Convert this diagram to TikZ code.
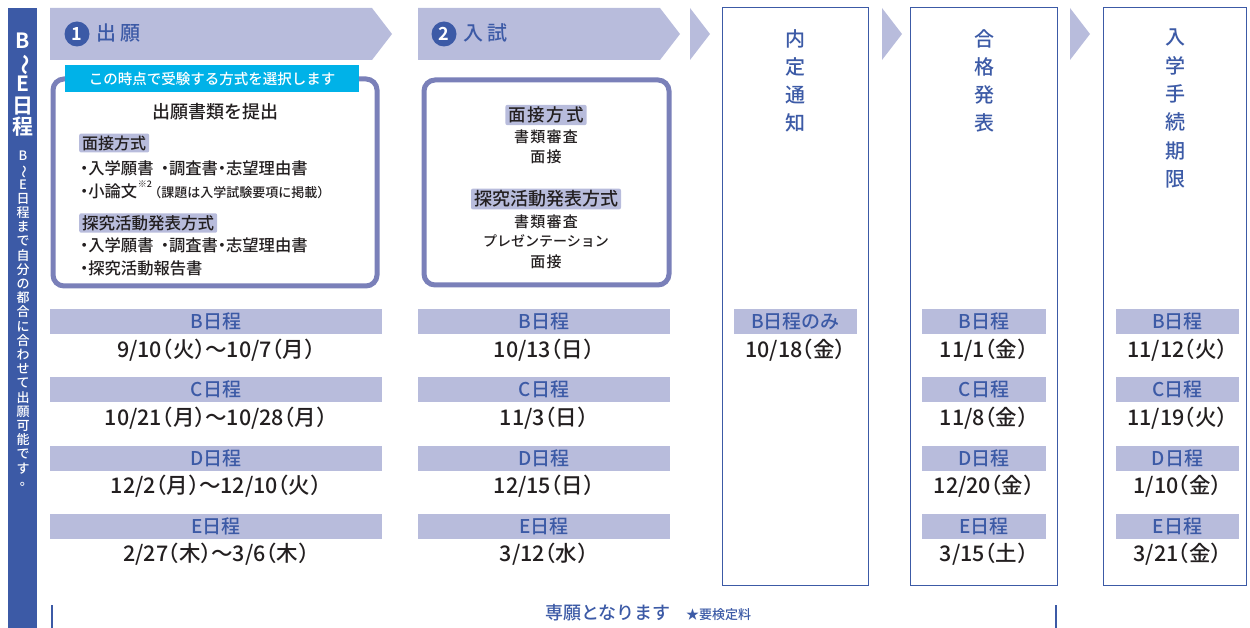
\documentclass[tikz,border=0pt]{standalone}
\usepackage{fontspec}
\usepackage{graphicx}
\setmainfont{Noto Sans CJK JP}[UprightFont=* Medium,BoldFont=* Bold]
\newfontfamily\jph{Noto Sans CJK JP}[UprightFont=* Medium,RawFeature=+halt]
\newcommand\myfs[1]{\fontsize{#1pt}{#1pt}\selectfont}
\newcommand\vfs[2]{\fontsize{#1pt}{#2pt}\selectfont}
\newcommand\vtilde{\smash{\rotatebox[origin=c]{-90}{〜}}}
\definecolor{dblue}{HTML}{3C5AA6}
\definecolor{lav}{HTML}{B8BCDC}
\definecolor{rborder}{HTML}{7A80B9}
\definecolor{cyanlbl}{HTML}{00B2E8}
\definecolor{tblack}{HTML}{231F20}
\begin{document}
\begin{tikzpicture}[x=1pt,y=-1pt,
  band/.style={fill=lav,draw=none},
  colbox/.style={draw=dblue,line width=1pt},
  roundbox/.style={draw=rborder,line width=5pt,rounded corners=11pt},
  tag/.style={fill=lav,rounded corners=2pt,inner xsep=3pt,inner ysep=2pt,text=tblack},
  schedbar/.style={fill=lav,text=dblue,inner sep=0pt,minimum height=24.5pt,font=\myfs{19}},
  datetxt/.style={text=tblack,inner sep=0pt,font=\jph\myfs{21.5}},
  coltitle/.style={text=dblue,align=center,inner sep=0pt,anchor=north,font=\vfs{20}{28.3}},
  item/.style={text=tblack,inner sep=0pt,anchor=west},
  numcirc/.style={circle,fill=dblue,text=white,inner sep=0pt,minimum size=25pt,font=\bfseries\myfs{18}},
  tick/.style={draw=dblue,line width=1.6pt}
]
\useasboundingbox (0,0) rectangle (1250,628);

% left bar
\fill[dblue] (8,8) rectangle (37,628);
\node[text=white,align=center,inner sep=0pt,anchor=north,font=\bfseries\vfs{21}{21.5}] (bartitle) at (23,33) {B\\\vtilde\\E\\日\\程};
\node[text=white,align=center,inner sep=0pt,anchor=north,font=\vfs{13}{14.2}] (barsub) at (23,151) {B\\\vtilde\\E\\日\\程\\ま\\で\\自\\分\\の\\都\\合\\に\\合\\わ\\せ\\て\\出\\願\\可\\能\\で\\す\\\hspace*{0.5em}\raisebox{0.15em}{。}};

% header bands
\fill[band] (50,8) -- (372,8) -- (392,34) -- (372,60) -- (50,60) -- cycle;
\fill[band] (418,8) -- (660,8) -- (680,34) -- (660,60) -- (418,60) -- cycle;
\fill[band] (690,8) -- (710,34) -- (690,60) -- cycle;
\fill[band] (882,8) -- (902,34) -- (882,60) -- cycle;
\fill[band] (1070,8) -- (1090,34) -- (1070,60) -- cycle;
\node[numcirc] (n1) at (77,34) {1};
\node[text=dblue,anchor=west,inner sep=0pt,font=\myfs{20}] (h1) at (96,33) {出 願};
\node[numcirc] (n2) at (444,34) {2};
\node[text=dblue,anchor=west,inner sep=0pt,font=\myfs{20}] (h2) at (463,33) {入 試};

% column boxes
\draw[colbox] (722,8) rectangle (868,585);
\draw[colbox] (910,8) rectangle (1057,585);
\draw[colbox] (1103,8) rectangle (1246,585);
\node[coltitle] (t3) at (795,29) {内\\定\\通\\知};
\node[coltitle] (t4) at (984,29) {合\\格\\発\\表};
\node[coltitle] (t5) at (1175,29) {入\\学\\手\\続\\期\\限};

% box 1
\draw[roundbox] (53,79) rectangle (377,286);
\node[fill=cyanlbl,text=white,minimum width=294pt,minimum height=27pt,inner sep=0pt,font=\myfs{14.5}] (sel) at (212,78.5) {この時点で受験する方式を選択します};
\node[text=tblack,inner sep=0pt,font=\myfs{18}] (sub1) at (215,112) {出願書類を提出};
\node[tag,anchor=west,font=\myfs{16}] (m1) at (79,143) {面接方式};
\node[item,font=\jph\myfs{16.3}] (m1a) at (80,168) {・入学願書\hspace{0.45em}・調査書・志望理由書};
\node[item,font=\jph\myfs{16.3}] (m1b) at (80,190) {・小論文\hspace{0.5pt}\raisebox{0.6em}{\myfs{9}※2}\hspace{3pt}{\myfs{13}（課題は入学試験要項に掲載）}};
\node[tag,anchor=west,font=\myfs{16.5}] (m2) at (79,223) {探究活動発表方式};
\node[item,font=\jph\myfs{16.3}] (m2a) at (80,245) {・入学願書\hspace{0.45em}・調査書・志望理由書};
\node[item,font=\jph\myfs{16.3}] (m2b) at (80,268) {・探究活動報告書};

% box 2
\draw[roundbox] (424,80) rectangle (669,285);
\node[tag,font=\addfontfeature{LetterSpace=10}\myfs{17.5}] (e1) at (546,115) {面接方式};
\node[text=tblack,inner sep=0pt,font=\addfontfeature{LetterSpace=8}\myfs{15}] (e1a) at (546,137) {書類審査};
\node[text=tblack,inner sep=0pt,font=\addfontfeature{LetterSpace=8}\myfs{15}] (e1b) at (546,157) {面接};
\node[tag,font=\myfs{18}] (e2) at (546,199) {探究活動発表方式};
\node[text=tblack,inner sep=0pt,font=\addfontfeature{LetterSpace=8}\myfs{15}] (e2a) at (546,222) {書類審査};
\node[text=tblack,inner sep=0pt,font=\myfs{14}] (e2b) at (546,241) {プレゼンテーション};
\node[text=tblack,inner sep=0pt,font=\addfontfeature{LetterSpace=8}\myfs{15}] (e2c) at (546,262) {面接};

% column 1 schedule
\node[schedbar,minimum width=332pt] (c1b) at (216,321.5) {B日程};
\node[datetxt] (c1bd) at (216,350) {9/10（火）〜10/7（月）};
\node[schedbar,minimum width=332pt] (c1c) at (216,389.5) {C日程};
\node[datetxt] (c1cd) at (216,418) {10/21（月）〜10/28（月）};
\node[schedbar,minimum width=332pt] (c1d) at (216,458.5) {D日程};
\node[datetxt] (c1dd) at (216,486) {12/2（月）〜12/10（火）};
\node[schedbar,minimum width=332pt] (c1e) at (216,526.5) {E日程};
\node[datetxt] (c1ed) at (216,554) {2/27（木）〜3/6（木）};

% column 2 schedule
\node[schedbar,minimum width=252pt] (c2b) at (544,321.5) {B日程};
\node[datetxt] (c2bd) at (544,350) {10/13（日）};
\node[schedbar,minimum width=252pt] (c2c) at (544,389.5) {C日程};
\node[datetxt] (c2cd) at (544,418) {11/3（日）};
\node[schedbar,minimum width=252pt] (c2d) at (544,458.5) {D日程};
\node[datetxt] (c2dd) at (544,486) {12/15（日）};
\node[schedbar,minimum width=252pt] (c2e) at (544,526.5) {E日程};
\node[datetxt] (c2ed) at (544,554) {3/12（水）};

% column 3
\node[schedbar,minimum width=123pt] (c3b) at (795.5,321.5) {B日程のみ};
\node[datetxt] (c3bd) at (795.5,350) {10/18（金）};

% column 4
\node[schedbar,minimum width=124pt] (c4b) at (984,321.5) {B日程};
\node[datetxt] (c4bd) at (984,350) {11/1（金）};
\node[schedbar,minimum width=124pt] (c4c) at (984,389.5) {C日程};
\node[datetxt] (c4cd) at (984,418) {11/8（金）};
\node[schedbar,minimum width=124pt] (c4d) at (984,458.5) {D日程};
\node[datetxt] (c4dd) at (984,486) {12/20（金）};
\node[schedbar,minimum width=124pt] (c4e) at (984,526.5) {E日程};
\node[datetxt] (c4ed) at (984,554) {3/15（土）};

% column 5
\node[schedbar,minimum width=123pt] (c5b) at (1177.5,321.5) {B日程};
\node[datetxt] (c5bd) at (1177.5,350) {11/12（火）};
\node[schedbar,minimum width=123pt] (c5c) at (1177.5,389.5) {C日程};
\node[datetxt] (c5cd) at (1177.5,418) {11/19（火）};
\node[schedbar,minimum width=123pt] (c5d) at (1177.5,458.5) {D日程};
\node[datetxt] (c5dd) at (1177.5,486) {1/10（金）};
\node[schedbar,minimum width=123pt] (c5e) at (1177.5,526.5) {E日程};
\node[datetxt] (c5ed) at (1177.5,554) {3/21（金）};

% bottom
\coordinate (tka) at (52,605);
\coordinate (tkb) at (52,628);
\coordinate (tkc) at (1056,605);
\coordinate (tkd) at (1056,628);
\draw[tick] (tka) -- (tkb);
\draw[tick] (tkc) -- (tkd);
\node[text=dblue,inner sep=0pt,font=\myfs{18}] (sen) at (608,613) {専願となります};
\node[text=dblue,inner sep=0pt,anchor=west,font=\myfs{13}] (fee) at (686,615) {★要検定料};
\end{tikzpicture}
\end{document}
